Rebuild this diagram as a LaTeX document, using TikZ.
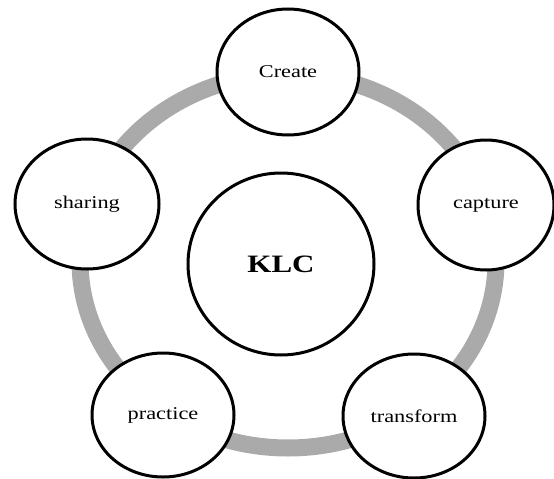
\documentclass[tikz,border=0pt]{standalone}
\usepackage{fontspec}
\setmainfont{Liberation Serif}
\usetikzlibrary{shapes.geometric}
\definecolor{ringgray}{RGB}{170,170,170}
\tikzset{
  ring/.style={draw=ringgray, line width=17pt},
  stage/.style={ellipse, draw=black, line width=3pt, fill=white, inner sep=0pt,
    font=\fontsize{18}{21}\selectfont},
  hub/.style={stage, font=\fontsize{25}{28}\selectfont\bfseries}
}
\newcommand{\wide}[1]{\scalebox{1.24}[1]{#1}}
\begin{document}
\begin{tikzpicture}[x=1pt, y=-1pt]
  \useasboundingbox (0,0) rectangle (554,479);
  % the cycle ring behind the stages
  \draw[ring] (288,261) ellipse [x radius=208, y radius=187];
  % stages of the cycle
  \node[stage, minimum width=142pt, minimum height=126pt] (create) at (288,72) {\wide{Create}};
  \node[stage, minimum width=136pt, minimum height=130pt] (capture) at (486,205) {\wide{capture}};
  \node[stage, minimum width=142pt, minimum height=124pt] (transform) at (414,416) {\wide{transform}};
  \node[stage, minimum width=142pt, minimum height=124pt] (practice) at (163,415) {\wide{practice}};
  \node[stage, minimum width=144pt, minimum height=130pt] (sharing) at (87,204) {\wide{sharing}};
  % centre
  \node[hub, minimum width=186pt, minimum height=182pt] (klc) at (281,264) {\wide{KLC}};
\end{tikzpicture}
\end{document}
